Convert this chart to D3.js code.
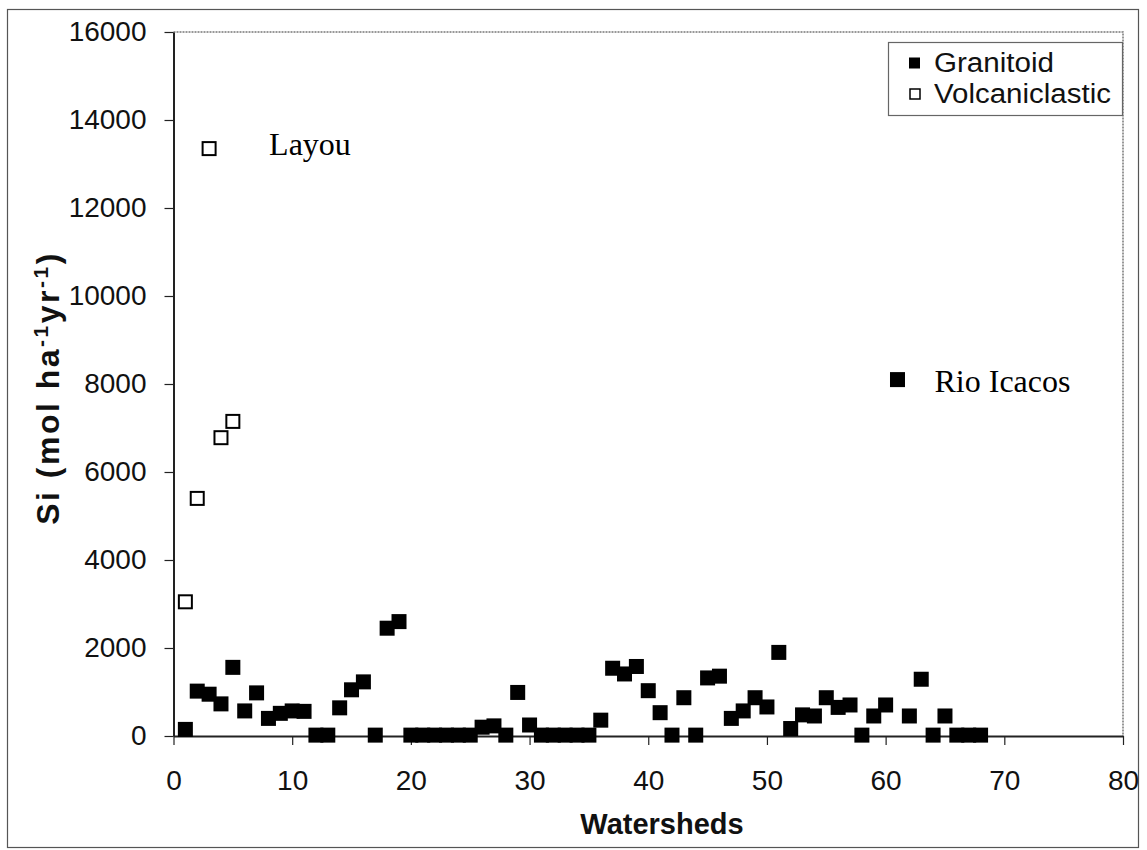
<!DOCTYPE html>
<html>
<head>
<meta charset="utf-8">
<script src="https://cdn.jsdelivr.net/npm/d3@7"></script>
<style>
  body { margin: 0; background: #fff; }
  svg { display: block; }
</style>
</head>
<body>
<svg id="chart" width="1147" height="850"></svg>
<script>
// Watershed numbers and silica fluxes (mol ha-1 yr-1)
const granitoidX = [1,2,3,4,5,6,7,8,9,10,11,12,13,14,15,16,17,18,19,20,21,22,23,24,25,26,27,28,29,30,31,32,33,34,35,36,37,38,39,40,41,42,43,44,45,46,47,48,49,50,51,52,53,54,55,56,57,58,59,60,61,62,63,64,65,66,67,68];
const granitoidSi = [150,1020,950,730,1560,570,980,400,515,570,560,20,20,640,1050,1230,20,2450,2600,20,20,20,20,20,20,200,230,20,990,250,20,20,20,20,20,360,1540,1410,1580,1030,530,20,870,20,1320,1360,400,570,870,660,1900,170,480,455,870,650,705,20,455,705,8100,455,1290,20,455,20,20,20];
const volcanicX = [1,2,3,4,5];
const volcanicSi = [3050,5400,13350,6780,7150];
const seriesNames = ["Granitoid", "Volcaniclastic"];
const xTicks = [0,10,20,30,40,50,60,70,80];
const yTicks = [0,2000,4000,6000,8000,10000,12000,14000,16000];
const notes = [
  { text: "Layou", series: 1, index: 2 },
  { text: "Rio Icacos", series: 0, index: 60 }
];

const svg = d3.select("#chart");
const sans = "Arial, 'Liberation Sans', Helvetica, sans-serif";
const serif = "'Times New Roman', 'Liberation Serif', Times, serif";

const x = d3.scaleLinear().domain([0, 80]).range([173.5, 1123]);
const y = d3.scaleLinear().domain([0, 16000]).range([736, 32]);

// outer frame
svg.append("rect")
  .attr("x", 7.5).attr("y", 9.5).attr("width", 1131).attr("height", 838)
  .attr("fill", "none").attr("stroke", "#555").attr("stroke-width", 1.2);

// plot-area border (top and right)
svg.append("path")
  .attr("d", `M${x(0)},${y(16000)}H${x(80)}V${y(0)}`)
  .attr("fill", "none").attr("stroke", "#777").attr("stroke-width", 1.5)
  .attr("stroke-dasharray", "2,1");

// axes
const xAxis = svg.append("g")
  .attr("transform", `translate(0,${y(0)})`)
  .call(d3.axisBottom(x).tickValues(xTicks).tickSize(9).tickPadding(25).tickSizeOuter(0));
const yAxis = svg.append("g")
  .attr("transform", `translate(${x(0)},0)`)
  .call(d3.axisLeft(y).tickValues(yTicks).tickSize(9).tickPadding(18).tickSizeOuter(0).tickFormat(d3.format("d")));

[xAxis, yAxis].forEach(g => {
  g.select(".domain").attr("stroke", "#222").attr("stroke-width", 2);
  g.selectAll(".tick line").attr("stroke", "#222").attr("stroke-width", 1.2);
  g.selectAll(".tick text")
    .attr("fill", "#111")
    .style("font-family", sans)
    .style("font-size", "28px");
});

// axis titles
svg.append("text")
  .attr("x", 662).attr("y", 834)
  .attr("text-anchor", "middle")
  .style("font-family", sans).style("font-size", "29px").style("font-weight", "bold")
  .attr("fill", "#111")
  .text("Watersheds");

const yTitle = svg.append("text")
  .attr("transform", "translate(59,388) rotate(-90)")
  .attr("text-anchor", "middle")
  .style("font-family", sans).style("font-size", "32px").style("font-weight", "bold")
  .style("letter-spacing", "2.5px")
  .attr("fill", "#111");
yTitle.append("tspan").text("Si (mol ha");
yTitle.append("tspan").attr("dy", -11).style("font-size", "21px").text("-1");
yTitle.append("tspan").attr("dy", 11).text("yr");
yTitle.append("tspan").attr("dy", -11).style("font-size", "21px").text("-1");
yTitle.append("tspan").attr("dy", 11).text(")");

// markers
const gran = granitoidX.map((d, i) => ({ x: d, v: granitoidSi[i] }));
const volc = volcanicX.map((d, i) => ({ x: d, v: volcanicSi[i] }));

svg.append("g").selectAll("rect").data(volc).join("rect")
  .attr("x", d => x(d.x) - 6.5).attr("y", d => y(d.v) - 6.5)
  .attr("width", 13).attr("height", 13)
  .attr("fill", "#fff").attr("stroke", "#000").attr("stroke-width", 2);

svg.append("g").selectAll("rect").data(gran).join("rect")
  .attr("x", d => x(d.x) - 7.5).attr("y", d => y(d.v) - 7.5)
  .attr("width", 15).attr("height", 15)
  .attr("fill", "#000");

// watershed annotations
const seriesData = [gran, volc];
const offsets = [{ dx: 37, dy: 12 }, { dx: 60, dy: 6 }];
notes.forEach(n => {
  const p = seriesData[n.series][n.index];
  const o = offsets[n.series];
  svg.append("text")
    .attr("x", x(p.x) + o.dx).attr("y", y(p.v) + o.dy)
    .style("font-family", serif).style("font-size", "32px")
    .attr("fill", "#000")
    .text(n.text);
});

// legend
const legend = svg.append("g");
legend.append("rect")
  .attr("x", 888.5).attr("y", 42.5).attr("width", 234).attr("height", 73)
  .attr("fill", "#fff").attr("stroke", "#666").attr("stroke-width", 1.2);
const legendRows = [
  { name: seriesNames[0], filled: true, cy: 63, base: 72, len: 120 },
  { name: seriesNames[1], filled: false, cy: 94, base: 103, len: 177 }
];
legendRows.forEach(r => {
  legend.append("rect")
    .attr("x", r.filled ? 909 : 910).attr("y", r.filled ? r.cy - 5.5 : r.cy - 5)
    .attr("width", r.filled ? 11 : 10).attr("height", r.filled ? 11 : 10)
    .attr("fill", r.filled ? "#000" : "#fff")
    .attr("stroke", "#000").attr("stroke-width", r.filled ? 0 : 1.5);
  legend.append("text")
    .attr("x", 934).attr("y", r.base)
    .attr("textLength", r.len).attr("lengthAdjust", "spacingAndGlyphs")
    .style("font-family", sans).style("font-size", "27px")
    .attr("fill", "#111")
    .text(r.name);
});
</script>
</body>
</html>
